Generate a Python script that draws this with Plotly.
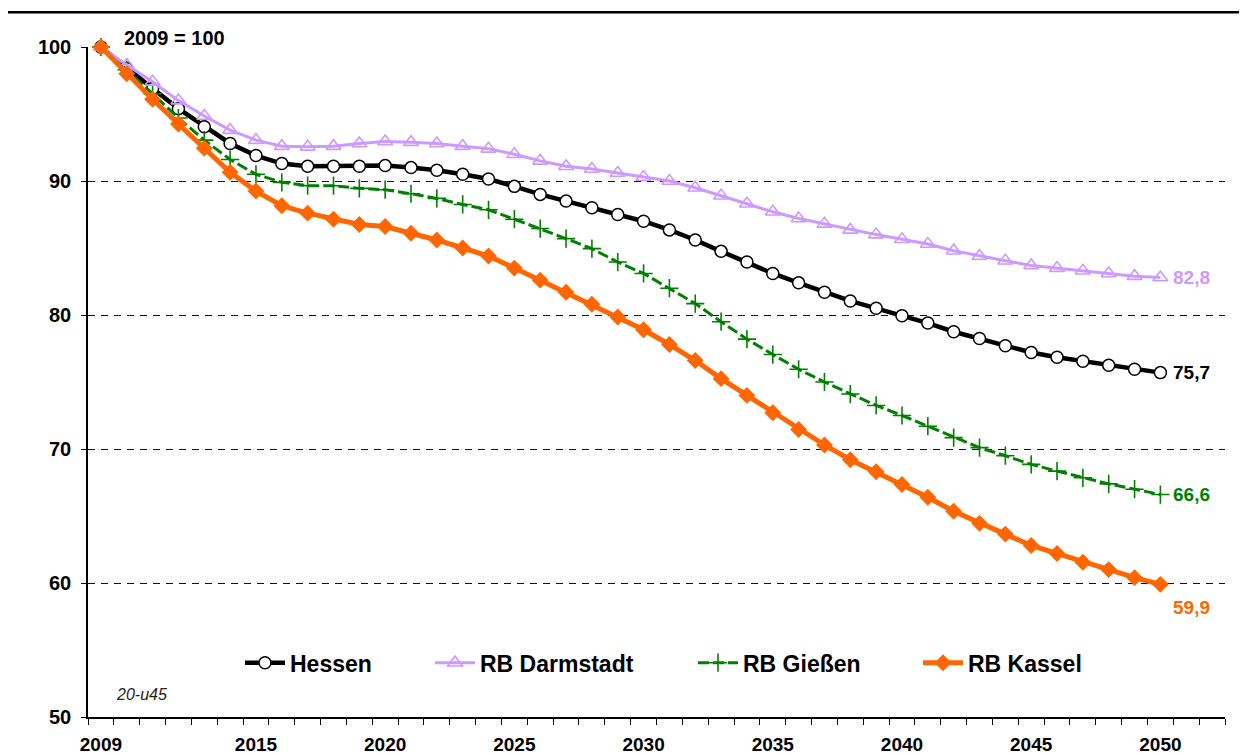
import plotly.graph_objects as go

years = list(range(2009, 2051))

hessen = [100, 98.4, 96.9, 95.4, 94.05, 92.8, 91.9, 91.3, 91.1, 91.1, 91.1, 91.15, 91.0,
          90.8, 90.5, 90.15, 89.6, 89.0, 88.5, 88.0, 87.5, 87.0, 86.35, 85.6, 84.75, 83.95,
          83.1, 82.4, 81.7, 81.05, 80.5, 79.95, 79.4, 78.75, 78.25, 77.7, 77.2, 76.85, 76.55,
          76.25, 75.95, 75.7]
darmstadt = [100, 98.65, 97.4, 96.0, 94.85, 93.8, 93.05, 92.6, 92.55, 92.6, 92.8, 92.95, 92.9,
             92.8, 92.6, 92.4, 92.0, 91.5, 91.1, 90.9, 90.6, 90.3, 90.0, 89.5, 88.9, 88.3,
             87.7, 87.2, 86.8, 86.35, 86.0, 85.65, 85.3, 84.8, 84.4, 84.05, 83.7, 83.5, 83.3,
             83.1, 82.9, 82.8]
giessen = [100, 98.3, 96.5, 94.7, 93.05, 91.6, 90.5, 89.9, 89.65, 89.65, 89.45, 89.35, 89.05,
           88.7, 88.25, 87.85, 87.15, 86.45, 85.7, 84.95, 83.95, 83.1, 82.0, 80.85, 79.5, 78.2,
           77.05, 75.95, 75.0, 74.1, 73.25, 72.5, 71.7, 70.85, 70.1, 69.5, 68.85, 68.35, 67.85,
           67.4, 67.0, 66.6]
kassel = [100, 98.0, 96.1, 94.25, 92.45, 90.65, 89.25, 88.15, 87.6, 87.15, 86.75, 86.6, 86.1,
          85.6, 85.0, 84.4, 83.5, 82.6, 81.7, 80.8, 79.85, 78.9, 77.8, 76.6, 75.25, 74.0,
          72.7, 71.45, 70.3, 69.2, 68.3, 67.35, 66.4, 65.35, 64.45, 63.65, 62.8, 62.2, 61.55,
          61.0, 60.4, 59.9]

x_ticks = [2009, 2015, 2020, 2025, 2030, 2035, 2040, 2045, 2050]
y_ticks = [50, 60, 70, 80, 90, 100]

FONT = "Liberation Sans, Arial, sans-serif"
C_HES = "#000000"
C_DA = "#CC99FF"
C_GI = "#008000"
C_KA = "#FF6600"

fig = go.Figure()

fig.add_trace(go.Scatter(
    x=years, y=hessen, name="Hessen", mode="lines+markers", legend="legend", showlegend=True,
    line=dict(color=C_HES, width=4.5),
    marker=dict(symbol="circle", size=12, color="white", line=dict(color=C_HES, width=1.5)),
    cliponaxis=False))
fig.add_trace(go.Scatter(
    x=years, y=giessen, name="RB Gießen", mode="lines+markers", legend="legend3", showlegend=True,
    line=dict(color=C_GI, width=3, dash="11px,4px"),
    marker=dict(symbol="cross-thin", size=13, color=C_GI, line=dict(color=C_GI, width=1.6)),
    cliponaxis=False))
fig.add_trace(go.Scatter(
    x=years, y=darmstadt, name="RB Darmstadt", mode="lines+markers", legend="legend2", showlegend=True,
    line=dict(color=C_DA, width=3),
    marker=dict(symbol="triangle-up-open", size=13, color=C_DA, line=dict(width=1.6)),
    cliponaxis=False))
fig.add_trace(go.Scatter(
    x=years, y=kassel, name="RB Kassel", mode="lines+markers", legend="legend4", showlegend=True,
    line=dict(color=C_KA, width=5),
    marker=dict(symbol="diamond", size=13, color=C_KA),
    cliponaxis=False))

# end-of-line value labels
def fmt(v):
    return f"{v:.1f}".replace(".", ",")

for vals, col, ys in [(darmstadt, C_DA, 0), (hessen, C_HES, 0), (giessen, C_GI, 0), (kassel, C_KA, -23)]:
    fig.add_annotation(x=years[-1], y=vals[-1], text=fmt(vals[-1]), showarrow=False,
                       xanchor="left", yanchor="middle", xshift=11, yshift=ys,
                       font=dict(family=FONT, size=19, color=col, weight="bold"))

fig.add_annotation(x=0.03, y=1.013, xref="paper", yref="paper", text="2009 = 100",
                   showarrow=False, xanchor="left", yanchor="middle",
                   font=dict(family=FONT, size=20, color="black", weight="bold"))
fig.add_annotation(x=0.023, y=0.034, xref="paper", yref="paper", text="<i>20-u45</i>",
                   showarrow=False, xanchor="left", yanchor="middle",
                   font=dict(family=FONT, size=16, color="#222"))

# rule across the top
fig.add_shape(type="line", xref="paper", yref="paper", x0=-0.0704, x1=1.02, y0=1.052, y1=1.052,
              line=dict(color="black", width=2.5))

legend_font = dict(family=FONT, size=23, color="black", weight="bold")
leg_common = dict(orientation="h", yanchor="middle", xanchor="left", y=0.081,
                  font=legend_font, itemwidth=40, bgcolor="rgba(0,0,0,0)", borderwidth=0)

# page body has an 8px margin, so the figure is 8px smaller and shifted
fig.update_layout(
    width=1239, height=747,
    margin=dict(l=80, r=22, t=39, b=38),
    showlegend=True,
    plot_bgcolor="white", paper_bgcolor="white",
    font=dict(family=FONT, color="black"),
    legend=dict(x=(240 - 88) / 1137, **leg_common),
    legend2=dict(x=(430 - 88) / 1137, **leg_common),
    legend3=dict(x=(693 - 88) / 1137, **leg_common),
    legend4=dict(x=(918 - 88) / 1137, **leg_common),
    xaxis=dict(
        range=[2008.5, 2052.5], tickmode="array", tickvals=x_ticks, automargin=False,
        ticks="", ticklen=0, showgrid=False, zeroline=False,
        showline=True, linecolor="black", linewidth=1.5,
        tickfont=dict(family=FONT, size=19, color="black", weight="bold"),
        ticklabelstandoff=9,
        minor=dict(tickmode="array", tickvals=[2008.5 + i for i in range(45)],
                   ticks="outside", ticklen=6, tickcolor="black", tickwidth=1, showgrid=False),
    ),
    yaxis=dict(
        range=[50, 100], tickmode="array", tickvals=y_ticks, automargin=False,
        ticks="outside", ticklen=5, tickcolor="black",
        showline=True, linecolor="black", linewidth=1.5, zeroline=False,
        showgrid=True, gridcolor="#111", gridwidth=1, griddash="7px,6px",
        tickfont=dict(family=FONT, size=20, color="black", weight="bold"),
        ticklabelstandoff=6,
    ),
)

fig.write_html("out.html")
